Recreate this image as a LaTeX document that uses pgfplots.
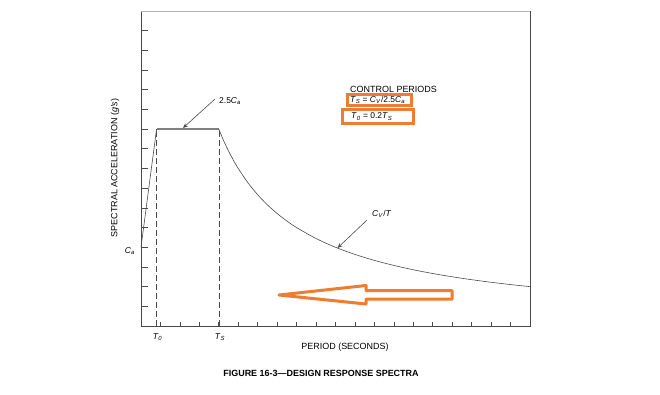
\documentclass[border=0pt]{standalone}
\usepackage{pgfplots}
\pgfplotsset{compat=1.18}
\usepackage{fontspec}
\setmainfont{Liberation Sans}
\setsansfont{Liberation Sans}
\usetikzlibrary{arrows.meta}
\definecolor{org}{HTML}{ED7D31}
\definecolor{ln}{HTML}{4A4A4A}
\newcommand{\var}[2]{\textit{#1}\textsubscript{\textit{#2}}}
\begin{document}
\begin{tikzpicture}[x=1bp,y=1bp]
\path[fill=white] (0,0) rectangle (660,-394);
\begin{axis}[
  at={(141bp,-326bp)}, anchor=south west,
  scale only axis, width=389bp, height=315bp,
  xmin=0, xmax=20, ymin=0, ymax=16,
  xtick={1,...,19}, ytick={1,...,15},
  xticklabels={}, yticklabels={},
  tick align=inside, xtick pos=bottom, ytick pos=left,
  major tick length=7bp,
  xtick style={/pgfplots/major tick length=4.5bp},
  axis line style={draw=ln, line width=0.9bp},
  tick style={draw=ln, line width=0.7bp},
  clip=false]
\addplot[ln, line width=0.6bp] coordinates {(0,4) (0.8,10)};
\addplot[gray, line width=1.3bp] coordinates {(0.8,10) (4,10)};
\addplot[ln, line width=0.6bp, smooth] coordinates {
(4,10) (4.25,9.412) (4.5,8.889) (4.75,8.421) (5,8) (5.5,7.273) (6,6.667) (6.5,6.154)
(7,5.714) (7.5,5.333) (8,5) (9,4.444) (10,4) (11,3.636) (12,3.333) (13,3.077)
(14,2.857) (15,2.667) (16,2.5) (17,2.353) (18,2.222) (19,2.105) (20,2)};
\addplot[ln, line width=0.6bp, dash pattern=on 6bp off 3bp] coordinates {(0.8,0) (0.8,10)};
\addplot[ln, line width=0.6bp, dash pattern=on 6bp off 3bp] coordinates {(4,0) (4,10)};
\end{axis}
\draw[gray!60, line width=0.9bp] (141,-11) -- (530,-11);
% labels
\node[rotate=90, font=\fontsize{9}{10}\selectfont] at (115,-168) {SPECTRAL ACCELERATION (\textit{g's})};
\node[font=\fontsize{9}{10}\selectfont] at (345,-347) {PERIOD (SECONDS)};
\node[font=\fontsize{9}{10}\selectfont\bfseries] at (321,-373) {FIGURE 16-3---DESIGN RESPONSE SPECTRA};
\node[anchor=east, font=\fontsize{8.5}{10}\selectfont, inner sep=0] at (135,-251) {\var{C}{a}};
\node[font=\fontsize{8.5}{10}\selectfont, inner sep=0] at (157.5,-337) {\var{T}{0}};
\node[font=\fontsize{8.5}{10}\selectfont, inner sep=0] at (220,-337) {\var{T}{S}};
\node[anchor=west, font=\fontsize{8.5}{10}\selectfont, inner sep=0] at (219,-101.5) {2.5\var{C}{a}};
\draw[ln, line width=0.6bp, -{Stealth[length=5bp,width=4bp]}] (215,-99) -- (183,-128);
\node[anchor=west, font=\fontsize{8.5}{10}\selectfont, inner sep=0] at (372,-214) {\var{C}{V}/\textit{T}};
\draw[ln, line width=0.6bp, -{Stealth[length=5bp,width=4bp]}] (367,-220) -- (337.5,-248);
% control periods
\node[anchor=west, font=\fontsize{9}{10}\selectfont, inner sep=0] at (350,-89) {CONTROL PERIODS};
\node[anchor=west, font=\fontsize{8.5}{10}\selectfont, inner sep=0] at (350,-100) {\var{T}{S} = \var{C}{V}/2.5\var{C}{a}};
\node[anchor=west, font=\fontsize{8.5}{10}\selectfont, inner sep=0] at (351,-116.5) {\var{T}{0} = 0.2\var{T}{S}};
\draw[org, line width=3bp] (347.5,-94.5) rectangle (411.5,-105.5);
\draw[org, line width=3bp] (342,-109) rectangle (413.5,-123.5);
% big arrow
\draw[org, line width=3bp, line join=round] (279,-295) -- (366,-285.5) -- (366,-290.5) -- (452,-290.5) -- (452,-299) -- (366,-299) -- (366,-304) -- cycle;
\end{tikzpicture}
\end{document}
